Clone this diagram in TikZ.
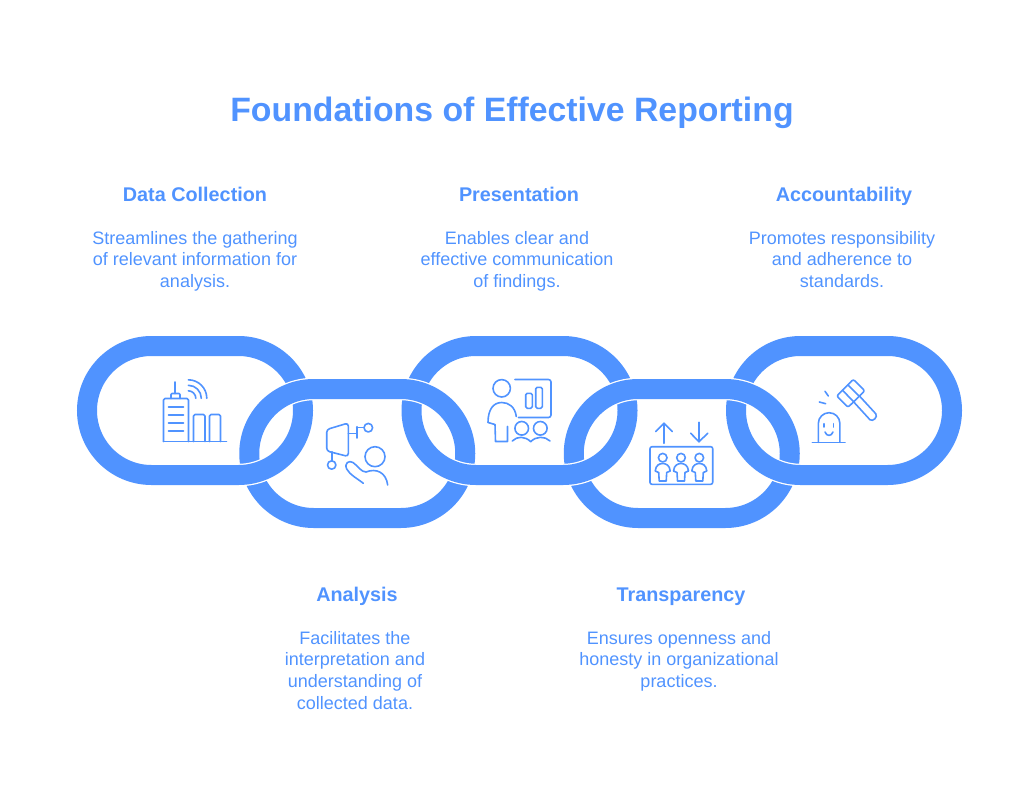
\documentclass[tikz,border=0pt]{standalone}
\usepackage{fontspec}
\setmainfont{Liberation Sans}
\definecolor{chainblue}{HTML}{5093FF}
\tikzset{
  linkband/.style={draw=chainblue,line width=20pt},
  linkhalo/.style={draw=white,line width=22.5pt},
  icon/.style={draw=chainblue,line width=1.6pt,line cap=round,line join=round},
  headtext/.style={text=chainblue,font=\fontsize{19.8}{24}\selectfont\bfseries,inner sep=0pt,anchor=base},
  bodytext/.style={text=chainblue,font=\fontsize{18}{21.6}\selectfont,align=center,inner sep=0pt,anchor=north},
}
\newcommand{\linkpath}[2]{(#1+74.5,#2) -- (#1+161.5,#2) arc[start angle=90,end angle=-90,radius=64.5pt] -- (#1+74.5,#2+129) arc[start angle=270,end angle=90,radius=64.5pt] -- cycle}
\begin{document}
\begin{tikzpicture}[x=1pt,y=-1pt]
  \useasboundingbox (0,0) rectangle (1024,800);
  \node[text=chainblue,font=\fontsize{33.8}{40}\selectfont\bfseries,inner sep=0pt,anchor=base] (title) at (512,121) {Foundations of Effective Reporting};

  % upper row of texts
  \node[headtext] (datahead) at (195,201) {Data Collection};
  \node[bodytext] (databody) at (195,231) {Streamlines the gathering\\of relevant information for\\analysis.};
  \node[headtext] (presenthead) at (519,201) {Presentation};
  \node[bodytext] (presentbody) at (517,231) {Enables clear and\\effective communication\\of findings.};
  \node[headtext] (accounthead) at (844,201) {Accountability};
  \node[bodytext] (accountbody) at (842,231) {Promotes responsibility\\and adherence to\\standards.};

  % lower row of texts
  \node[headtext] (analysishead) at (357,601) {Analysis};
  \node[bodytext] (analysisbody) at (355,631) {Facilitates the\\interpretation and\\understanding of\\collected data.};
  \node[headtext] (transphead) at (681,601) {Transparency};
  \node[bodytext] (transpbody) at (679,631) {Ensures openness and\\honesty in organizational\\practices.};

  % chain, upper links first
  \foreach \lx in {77,401.5,726}
    \draw[linkband] \linkpath{\lx}{346};
  \foreach \lx in {239.25,563.75} {
    \draw[linkhalo] \linkpath{\lx}{389};
    \draw[linkband] \linkpath{\lx}{389};
  }
  % lower half of the upper links passes over again
  \begin{scope}
    \clip (0,432) rectangle (1024,800);
    \foreach \lx in {77,401.5,726} {
      \draw[linkhalo] \linkpath{\lx}{346};
      \draw[linkband] \linkpath{\lx}{346};
    }
  \end{scope}

  % building icon
  \draw[icon,rounded corners=1.5pt] (163.5,441.5) -- (163.5,398.5) -- (188.5,398.5) -- (188.5,441.5);
  \draw[icon] (163.5,441.5) -- (226.5,441.5);
  \draw[icon,rounded corners=1pt] (171,398.5) -- (171,393.5) -- (180,393.5) -- (180,398.5);
  \draw[icon] (175,393.5) -- (175,382);
  \foreach \wy in {406.7,414.7,422.7,430.7}
    \draw[icon] (168.5,\wy) -- (183.5,\wy);
  \draw[icon,rounded corners=1.5pt] (193.5,441.5) -- (193.5,414.5) -- (205,414.5) -- (205,441.5);
  \draw[icon,rounded corners=1.5pt] (209.5,441.5) -- (209.5,414.5) -- (220.5,414.5) -- (220.5,441.5);
  \foreach \wr in {7.5,13,18.5}
    \draw[icon] (188.3,398.3-\wr) arc[start angle=90,end angle=0,radius=\wr pt];

  % analysis icon
  \draw[icon,rounded corners=3pt] (326.7,429.5) -- (348.3,423) -- (348.3,456.5) -- (326.7,451) -- cycle;
  \draw[icon] (348.3,433.5) -- (356.7,433.5);
  \draw[icon] (356.7,426.7) -- (356.7,438);
  \draw[icon] (356.7,427.5) -- (364,427.5);
  \draw[icon] (368.3,427.7) circle (4.3);
  \draw[icon] (331.7,451.7) -- (331.7,460.7);
  \draw[icon] (331.7,465) circle (4.2);
  \draw[icon] (375,456.7) circle (10);
  \draw[icon] (363.3,483.3) .. controls (358,479) and (350,475) .. (346.7,469)
    .. controls (344,463) and (349,460) .. (353,462.5)
    .. controls (358,466) and (361,472) .. (366,472)
    .. controls (376,468) and (386,472) .. (387.7,485);

  % presentation icon
  \draw[icon] (501.7,388.3) circle (8.7);
  \draw[icon] (516.3,416.5) .. controls (515,407) and (509,402.5) .. (501.7,402.5)
    .. controls (493,402.5) and (488,410) .. (488,422.5) -- (495,424.5) -- (495.5,441.5) -- (507.5,441.5) -- (507.5,426.5);
  \draw[icon,rounded corners=2.5pt] (515,379.5) -- (551,379.5) -- (551,417.5) -- (518.5,417.5);
  \draw[icon,rounded corners=1.5pt] (525.7,393.3) rectangle (532.3,408.3);
  \draw[icon,rounded corners=1.5pt] (535.7,387.3) rectangle (542.3,408.3);
  \draw[icon] (521.7,428.3) circle (6.8);
  \draw[icon] (540.3,428.3) circle (6.8);
  \draw[icon] (512.3,441) .. controls (517,436) and (525,436) .. (530.7,441.7)
    .. controls (536,436) and (545,436) .. (550,441);

  % transparency icon
  \draw[icon,rounded corners=2pt] (650,446.7) rectangle (712.7,484.3);
  \draw[icon] (664,443.3) -- (664,423.3);
  \draw[icon] (655.7,431.5) -- (664,423.3) -- (672.3,431.5);
  \draw[icon] (699,422.3) -- (699,441.7);
  \draw[icon] (690.7,433.3) -- (699,441.7) -- (707.7,433.3);
  \foreach \cx in {662.7,681,699.3} {
    \draw[icon] (\cx,457.7) circle (4.3);
    \draw[icon] (\cx-3.5,481) -- (\cx-4,472.5) -- (\cx-7.5,471)
      .. controls (\cx-7,465) and (\cx-3,463.5) .. (\cx,463.5)
      .. controls (\cx+3,463.5) and (\cx+7,465) .. (\cx+7.5,471)
      -- (\cx+4,472.5) -- (\cx+3.5,481) -- cycle;
  }

  % accountability icon
  \draw[icon] (812.3,442.3) -- (845,442.3);
  \draw[icon] (818.3,442.3) -- (818.3,423.5) arc[start angle=180,end angle=0,radius=10.8pt] -- (839.9,442.3);
  \draw[icon] (824,423.7) -- (824,427);
  \draw[icon] (833.3,423.7) -- (833.3,427);
  \draw[icon] (825,432) .. controls (826.5,436.5) and (831.5,436.5) .. (833,432);
  \draw[icon] (825,391.3) -- (828.3,396);
  \draw[icon] (819.3,402) -- (825.7,403.7);
  \draw[icon,rounded corners=2pt] (836.7,396) -- (853.3,379.3) -- (864.8,390.8) -- (848,407.3) -- cycle;
  \draw[icon] (842.5,390.3) -- (853.8,401.8);
  \draw[icon] (848,385) -- (859.2,396.2);
  \draw[icon] (853.3,401.5) -- (870,419.8) .. controls (873,422) and (878,417) .. (875.8,413.8) -- (859,395.5);
\end{tikzpicture}
\end{document}
